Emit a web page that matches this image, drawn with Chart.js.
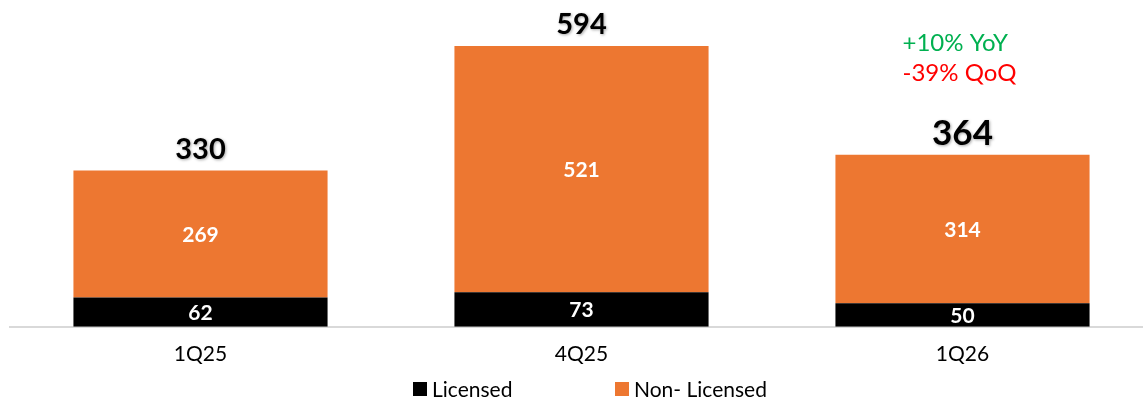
<!DOCTYPE html>
<html>
<head>
<meta charset="utf-8">
<script src="https://cdn.jsdelivr.net/npm/chart.js@4"></script>
<style>
  html, body { margin: 0; padding: 0; background: #fff; overflow: hidden; width: 1143px; height: 401px; }
  #wrap { width: 1153px; height: 401px; position: relative; }
</style>
</head>
<body>
<div id="wrap"><canvas id="chart"></canvas></div>
<script>
const quarters = ["1Q25", "4Q25", "1Q26"]
const licensed = [62, 73, 50]
const nonLicensed = [269, 521, 314]
const totals = [330, 594, 364]
const growthNotes = [
    { text: "+10% YoY", color: "#00b050" },
    { text: "-39% QoQ", color: "#ff0000" }
]

const FONT = "Lato, 'Open Sans', sans-serif"
const totalFontSizes = [29, 29, 35]

// values inside the bars, totals on top, growth note above the last bar, legend
const labelsPlugin = {
    id: "barLabels",
    afterDatasetsDraw(chart) {
        const ctx = chart.ctx
        ctx.save()
        ctx.textAlign = "center"
        ctx.textBaseline = "middle"
        chart.data.datasets.forEach((ds, di) => {
            chart.getDatasetMeta(di).data.forEach((bar, i) => {
                const mid = (bar.y + bar.base) / 2
                ctx.fillStyle = "#fff"
                ctx.font = "bold 21px " + FONT
                ctx.fillText(ds.data[i], bar.x, mid + 1)
            })
        })
        const top = chart.getDatasetMeta(1).data
        top.forEach((bar, i) => {
            ctx.font = "bold " + totalFontSizes[i] + "px " + FONT
            ctx.shadowColor = "rgba(0,0,0,0.35)"
            ctx.shadowBlur = 3
            ctx.shadowOffsetX = 1
            ctx.shadowOffsetY = 1
            ctx.fillStyle = "#000"
            ctx.fillText(totals[i], bar.x, bar.y - 21)
        })
        ctx.shadowColor = "transparent"
        const last = top[top.length - 1]
        ctx.textAlign = "left"
        ctx.font = "24px " + FONT
        growthNotes.forEach((n, k) => {
            ctx.fillStyle = n.color
            ctx.fillText(n.text, last.x - 60, 43 + k * 30)
        })

        // legend
        ctx.font = "21px " + FONT
        const legendX = [413, 615]
        chart.data.datasets.forEach((ds, di) => {
            ctx.fillStyle = ds.backgroundColor
            ctx.fillRect(legendX[di], 382, 14, 14)
            ctx.fillStyle = "#000"
            ctx.fillText(ds.label, legendX[di] + 19, 390)
        })
        ctx.restore()
    }
}

new Chart(document.getElementById("chart"), {
    type: "bar",
    data: {
        labels: quarters,
        datasets: [
            { label: "Licensed", data: licensed, backgroundColor: "#000000" },
            { label: "Non- Licensed", data: nonLicensed, backgroundColor: "#ed7731" }
        ]
    },
    options: {
        responsive: true,
        maintainAspectRatio: false,
        animation: false,
        layout: { padding: { top: 5, left: 10, right: 0, bottom: 19 } },
        datasets: { bar: { categoryPercentage: 1, barPercentage: 0.667 } },
        scales: {
            x: {
                stacked: true,
                grid: { display: false, drawTicks: false },
                border: { color: "#d9d9d9", width: 2 },
                ticks: { color: "#000", font: { family: FONT, size: 21 }, padding: 15 }
            },
            y: {
                stacked: true,
                display: false,
                min: 0,
                max: 681
            }
        },
        plugins: {
            legend: { display: false },
            tooltip: { enabled: false }
        }
    },
    plugins: [labelsPlugin]
})
</script>
</body>
</html>
